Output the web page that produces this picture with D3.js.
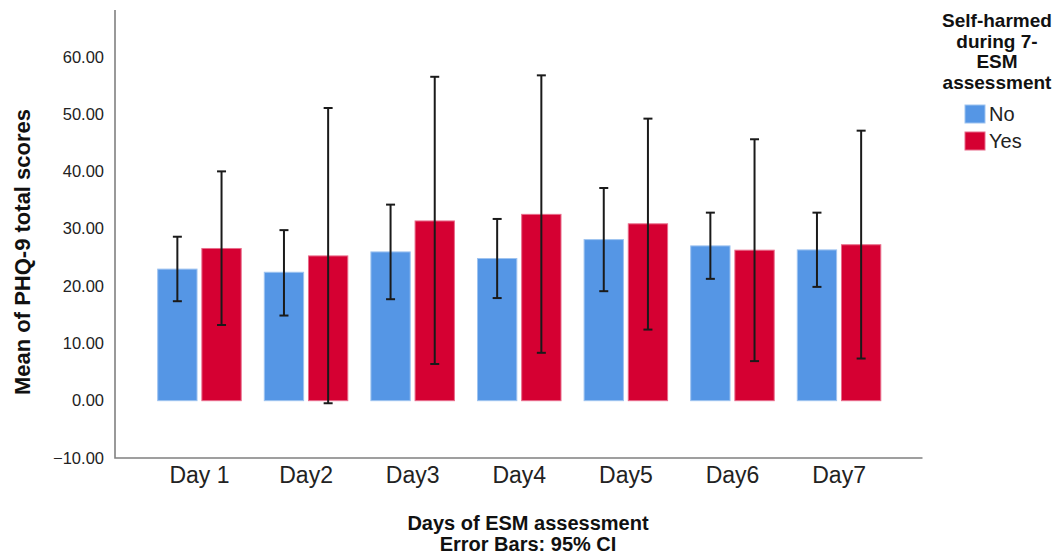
<!DOCTYPE html>
<html>
<head>
<meta charset="utf-8">
<script src="https://cdn.jsdelivr.net/npm/d3@7/dist/d3.min.js"></script>
<style>
  html, body { margin: 0; padding: 0; background: #fff; }
  svg { display: block; font-family: "Liberation Sans", Arial, sans-serif; }
</style>
</head>
<body>
<svg id="chart" width="1060" height="558"></svg>
<script>
const categories = ["Day 1", "Day2", "Day3", "Day4", "Day5", "Day6", "Day7"];
const seriesNames = ["No", "Yes"];
const meanNo  = [22.95, 22.4, 25.95, 24.8, 28.1, 27.0, 26.3];
const meanYes = [26.55, 25.25, 31.35, 32.5, 30.85, 26.25, 27.2];
const lowNo   = [17.35, 14.85, 17.7, 17.9, 19.1, 21.25, 19.85];
const highNo  = [28.6, 29.75, 34.2, 31.7, 37.1, 32.8, 32.8];
const lowYes  = [13.2, -0.45, 6.4, 8.35, 12.4, 6.9, 7.35];
const highYes = [40.0, 51.05, 56.5, 56.75, 49.2, 45.6, 47.1];
const yTicks = [-10, 0, 10, 20, 30, 40, 50, 60];
const colors = ["#5596e5", "#d50032"];
const strokes = ["#9ec3f0", "#e86b8a"];

const svg = d3.select("#chart");

const y = d3.scaleLinear().domain([-10, 68.15]).range([458, 10]);
const x = d3.scaleBand().domain(categories).range([146.2, 892.4]).paddingInner(0);
const xs = d3.scaleBand().domain(seriesNames).range([11.5, 95]).paddingInner(0.11);

const rows = categories.map((c, i) => ({
  cat: c,
  vals: [
    {s: "No", m: meanNo[i], lo: lowNo[i], hi: highNo[i]},
    {s: "Yes", m: meanYes[i], lo: lowYes[i], hi: highYes[i]}
  ]
}));

// y tick labels
const yAxis = d3.axisLeft(y).tickValues(yTicks).tickSize(0).tickPadding(11)
  .tickFormat(d => d3.format(".2f")(d));
const gy = svg.append("g").attr("transform", "translate(115,0)").call(yAxis);
gy.select(".domain").remove();
gy.selectAll("text").attr("font-size", 16.5).attr("fill", "#222")
  .attr("font-family", "'Liberation Sans', Arial, sans-serif");

// x tick labels
const xAxis = d3.axisBottom(x).tickSize(0).tickPadding(0);
const gx = svg.append("g").attr("transform", "translate(0,467)").call(xAxis);
gx.select(".domain").remove();
gx.selectAll("text").attr("font-size", 23).attr("fill", "#222")
  .attr("font-family", "'Liberation Sans', Arial, sans-serif");

// bars
const groups = svg.append("g").selectAll("g").data(rows).join("g")
  .attr("transform", d => `translate(${x(d.cat)},0)`);

groups.selectAll("rect").data(d => d.vals).join("rect")
  .attr("x", d => xs(d.s))
  .attr("width", xs.bandwidth())
  .attr("y", d => y(d.m))
  .attr("height", d => y(0) - y(d.m))
  .attr("fill", (d, i) => colors[i])
  .attr("stroke", (d, i) => strokes[i])
  .attr("stroke-width", 1);

// error bars
const eb = groups.selectAll("g.err").data(d => d.vals).join("g").attr("class", "err")
  .attr("stroke", "#1a1a1a").attr("stroke-width", 2);
eb.append("line")
  .attr("x1", d => xs(d.s) + xs.bandwidth() / 2)
  .attr("x2", d => xs(d.s) + xs.bandwidth() / 2)
  .attr("y1", d => y(d.lo)).attr("y2", d => y(d.hi));
eb.append("line")
  .attr("x1", d => xs(d.s) + xs.bandwidth() / 2 - 4.5)
  .attr("x2", d => xs(d.s) + xs.bandwidth() / 2 + 4.5)
  .attr("y1", d => y(d.hi)).attr("y2", d => y(d.hi));
eb.append("line")
  .attr("x1", d => xs(d.s) + xs.bandwidth() / 2 - 4.5)
  .attr("x2", d => xs(d.s) + xs.bandwidth() / 2 + 4.5)
  .attr("y1", d => y(d.lo)).attr("y2", d => y(d.lo));

// axis frame
svg.append("path")
  .attr("d", `M115,${y(68.15)}V${y(-10)}H922.5`)
  .attr("fill", "none").attr("stroke", "#808080").attr("stroke-width", 1.6);

// axis titles
svg.append("text")
  .attr("transform", `translate(30,252) rotate(-90)`)
  .attr("text-anchor", "middle")
  .attr("font-size", 22).attr("font-weight", "bold").attr("fill", "#111")
  .text("Mean of PHQ-9 total scores");

const xt = svg.append("text").attr("text-anchor", "middle")
  .attr("font-size", 20).attr("font-weight", "bold").attr("fill", "#111");
xt.append("tspan").attr("x", 528).attr("y", 530).text("Days of ESM assessment");
xt.append("tspan").attr("x", 528).attr("y", 551).text("Error Bars: 95% CI");

// legend
const legTitle = ["Self-harmed", "during 7-", "ESM", "assessment"];
svg.append("text").attr("text-anchor", "middle")
  .attr("font-size", 19).attr("font-weight", "bold").attr("fill", "#111")
  .selectAll("tspan").data(legTitle).join("tspan")
  .attr("x", 997).attr("y", (d, i) => 27 + i * 20.5).text(d => d);

const leg = svg.append("g").selectAll("g").data(seriesNames).join("g")
  .attr("transform", (d, i) => `translate(965,${105 + i * 27})`);
leg.append("rect").attr("width", 20).attr("height", 18)
  .attr("fill", (d, i) => colors[i]).attr("stroke", (d, i) => strokes[i]).attr("stroke-width", 1);
leg.append("text").attr("x", 24).attr("y", 16)
  .attr("font-size", 20).attr("fill", "#222").text(d => d);
</script>
</body>
</html>
